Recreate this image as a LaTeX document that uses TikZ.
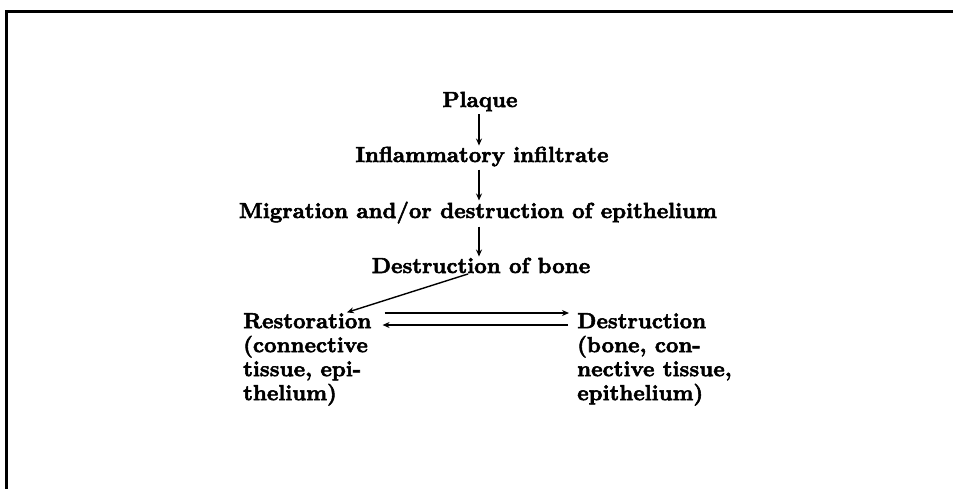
\documentclass[tikz,border=0pt]{standalone}
\usepackage{fontspec}
\setmainfont{lmroman10-regular.otf}[BoldFont=lmroman10-bold.otf,BoldFeatures={FakeBold=2.5}]
\usetikzlibrary{arrows.meta}
\begin{document}
\begin{tikzpicture}[x=1pt,y=-1pt,
  lbl/.style={inner sep=0pt,font=\fontsize{21.8}{24}\selectfont\bfseries},
  blk/.style={lbl,align=left},
  arr/.style={-{Stealth[length=7pt,width=6pt]},line width=1.4pt},
  frame/.style={line width=3pt}]
\useasboundingbox (0,0) rectangle (953,488);
\clip (0,0) rectangle (953,488);
\draw[frame] (6.5,500) -- (6.5,11) -- (960,11);
\node[lbl,anchor=base] (plaque) at (480,107) {Plaque};
\node[lbl,anchor=base] (infl) at (482,162) {Inflammatory infiltrate};
\node[lbl,anchor=base] (migr) at (478,218) {Migration and/or destruction of epithelium};
\node[lbl,anchor=base] (dob) at (481,273) {Destruction of bone};
\node[blk,anchor=north west] (rest) at (243,313) {Restoration\\(connective\\tissue, epi-\\thelium)};
\node[blk,anchor=north west] (dest) at (577,313) {Destruction\\(bone, con-\\nective tissue,\\epithelium)};
\draw[arr,shorten <=3pt,shorten >=1pt] (plaque.south -| 479,0) -- (infl.north -| 479,0);
\draw[arr,shorten <=3pt,shorten >=1pt] (infl.south -| 479,0) -- (migr.north -| 479,0);
\draw[arr,shorten <=3pt,shorten >=1pt] (migr.south -| 479,0) -- (dob.north -| 479,0);
\draw[arr,shorten <=2pt,shorten >=2pt] (dob.south -| 470,0) -- (rest.north -| 345,0);
\draw[arr,shorten <=13pt,shorten >=8pt] (rest.east |- 0,313) -- (dest.west |- 0,313);
\draw[arr,shorten <=9pt,shorten >=11pt] (dest.west |- 0,325) -- (rest.east |- 0,325);
\end{tikzpicture}
\end{document}
